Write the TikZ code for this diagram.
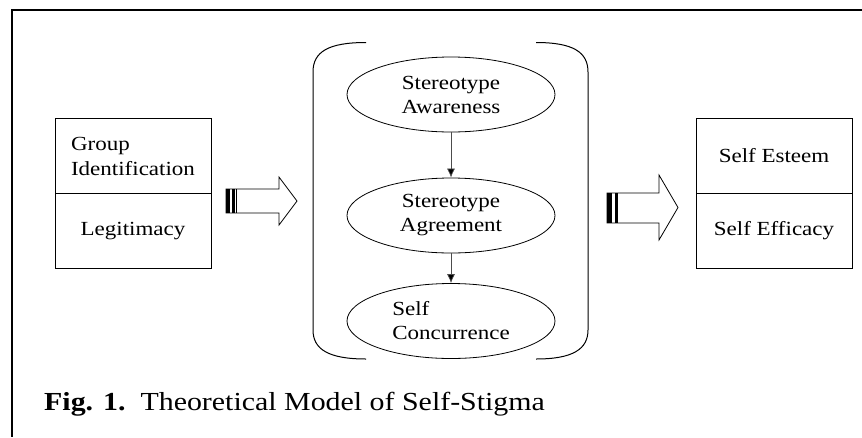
\documentclass[tikz,border=0pt]{standalone}
\usepackage{fontspec}
\setmainfont{Liberation Serif}[FakeStretch=1.15]
\usetikzlibrary{shapes.geometric,arrows.meta}

\begin{document}
\begin{tikzpicture}[x=1pt,y=-1pt]
      \tikzset{cell/.style={draw, line width=1pt, minimum width=156pt, minimum height=75pt, inner sep=0pt, outer sep=0pt, align=left, font=\fontsize{20}{25}\selectfont},
               oval/.style={draw, ellipse, line width=0.8pt, minimum width=208pt, minimum height=75pt, inner sep=0pt, align=left, font=\fontsize{20}{24}\selectfont},
               fatarrow/.style={draw, line width=0.8pt, fill=white}}
      \useasboundingbox (0,0) rectangle (862,437);
%% Frame
      \draw[line width=2pt] (862,10) -- (12,10) -- (12,437);
%% Boxes
	%venstre
      	\node[cell] (grp) at (133,156) {Group\\Identification};
     	\node[cell, anchor=north, align=center] (legit) at (grp.south) {Legitimacy};
	%hoejre
      	\node[cell, align=center] (esteem) at (774,155.5) {Self Esteem};
     	\node[cell, anchor=north, align=center] (efficacy) at (esteem.south) {Self Efficacy};
%% Ellipses
      	\node[oval, align=center] (aware) at (451,94.5) {Stereotype\\Awareness};
     	\node[oval, align=center] (agree) at (451,215.5) {Stereotype\\Agreement};
     	\node[oval] (concur) at (451,321) {Self\\Concurrence};
%% Bracket
		\draw[line width=1pt] (366,42.5) .. controls (328,42.5) and (313,52) .. (313,72) -- (313,330) .. controls (313,349) and (328,359) .. (366,359);
		\draw[line width=1pt] (536,42.5) .. controls (573,42.5) and (588,52) .. (588,72) -- (588,330) .. controls (588,349) and (573,359) .. (536,359);
%Edges
		\path [->, >={Latex[length=9pt,width=8pt]}, draw=black!70, line width=0.7pt] (aware) edge (agree);
		\path [->, >={Latex[length=9pt,width=8pt]}, draw=black!70, line width=0.7pt] (agree) edge (concur);
	%blokpile
		\draw[fatarrow] (226,189) -- (279,189) -- (279,177) -- (297,201) -- (279,225) -- (279,213) -- (226,213) -- cycle;
		\fill (226,189) rectangle (229.5,213);
		\fill (232,189) rectangle (234.5,213);
		\draw[line width=0.8pt] (236.5,189) -- (236.5,213);
		\draw[fatarrow] (607,193) -- (659,193) -- (659,175) -- (678,207.5) -- (659,240) -- (659,223) -- (607,223) -- cycle;
		\fill (607,193) rectangle (611.5,223);
		\fill (615,193) rectangle (617.5,223);
%% Caption
      	\node[anchor=base west, inner sep=0pt, font=\fontsize{26}{30}\selectfont] (caption) at (44,410) {\textbf{Fig. 1.}\ \ Theoretical Model of Self-Stigma};
\end{tikzpicture}
\end{document}
